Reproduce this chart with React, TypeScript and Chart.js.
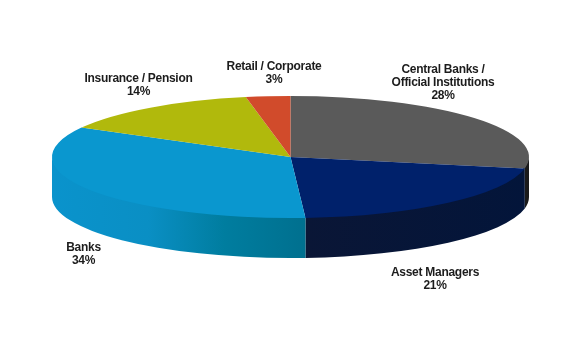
import React, { useEffect, useRef } from "react";
import { Chart, registerables } from "chart.js";

Chart.register(...registerables);

const categories = ["Central Banks / Official Institutions", "Asset Managers", "Banks", "Insurance / Pension", "Retail / Corporate"];
const labelLines = [["Central Banks /", "Official Institutions"], ["Asset Managers"], ["Banks"], ["Insurance / Pension"], ["Retail / Corporate"]];
const shares = [28, 21, 34, 14, 3];
const topColors = ["#5a5a5a", "#00216b", "#0a97cf", "#b1b90c", "#d14b2b"];
const sideStops = [
  [[0, "#1a1a1a"], [1, "#1a1a1a"]],
  [[0, "#0a1636"], [1, "#03153a"]],
  [[0, "#0a93cc"], [0.38, "#0a8fc4"], [0.68, "#007d9f"], [1, "#00708f"]],
  [[0, "#8a9000"], [1, "#8a9000"]],
  [[0, "#a33a20"], [1, "#a33a20"]],
];
const labelAnchors = [
  [443, 69],
  [435, 272],
  [83.5, 247],
  [138.5, 78],
  [274, 66],
];

const RX = 238.5;
const RY = 61;
const DEPTH = 40;

const pie3d = {
  id: "pie3d",
  beforeDatasetsDraw(chart: any) {
    const ctx = chart.ctx;
    const arcs = chart.getDatasetMeta(0).data;
    const cx = arcs[0].x;
    const cy = arcs[0].y;
    arcs.forEach((arc: any, i: number) => {
      const a = Math.max(arc.startAngle, 0);
      const b = Math.min(arc.endAngle, Math.PI);
      if (b <= a) return;
      const xa = cx + RX * Math.cos(a);
      const xb = cx + RX * Math.cos(b);
      const g = ctx.createLinearGradient(xb, 0, xa, 0);
      (sideStops[i] as any[]).forEach(([p, c]) => g.addColorStop(p, c));
      ctx.save();
      ctx.beginPath();
      ctx.ellipse(cx, cy - 1.5, RX, RY, 0, a, b, false);
      ctx.ellipse(cx, cy + DEPTH, RX, RY, 0, b, a, true);
      ctx.closePath();
      ctx.fillStyle = g;
      ctx.fill();
      ctx.restore();
    });
    ctx.save();
    ctx.translate(cx, cy);
    ctx.scale(1, RY / RX);
    ctx.translate(-cx, -cy);
  },
  afterDatasetsDraw(chart: any) {
    chart.ctx.restore();
  },
  afterDraw(chart: any) {
    const ctx = chart.ctx;
    ctx.save();
    ctx.font = 'bold 12px "Liberation Sans", Arial, sans-serif';
    ctx.letterSpacing = "-0.28px";
    ctx.fillStyle = "#1c1c1c";
    ctx.textAlign = "center";
    ctx.textBaseline = "middle";
    shares.forEach((v, i) => {
      const lines = [...labelLines[i], `${v}%`];
      lines.forEach((t, j) => ctx.fillText(t, labelAnchors[i][0], labelAnchors[i][1] + 1 + j * 13));
    });
    ctx.restore();
  },
};

export default function App() {
  const ref = useRef<HTMLCanvasElement>(null);
  useEffect(() => {
    const chart = new Chart(ref.current!, {
      type: "pie",
      data: {
        labels: categories,
        datasets: [
          {
            data: shares,
            backgroundColor: topColors,
            borderWidth: 0,
            clip: false,
          } as any,
        ],
      },
      options: {
        responsive: false,
        animation: false,
        radius: RX,
        layout: { padding: { bottom: DEPTH } },
        plugins: { legend: { display: false }, tooltip: { enabled: false } },
      } as any,
      plugins: [pie3d],
    });
    return () => chart.destroy();
  }, []);
  return (
    <div style={{ position: "fixed", left: 0, top: 0, background: "#fff" }}>
      <canvas ref={ref} width={581} height={354} style={{ display: "block" }} />
    </div>
  );
}
